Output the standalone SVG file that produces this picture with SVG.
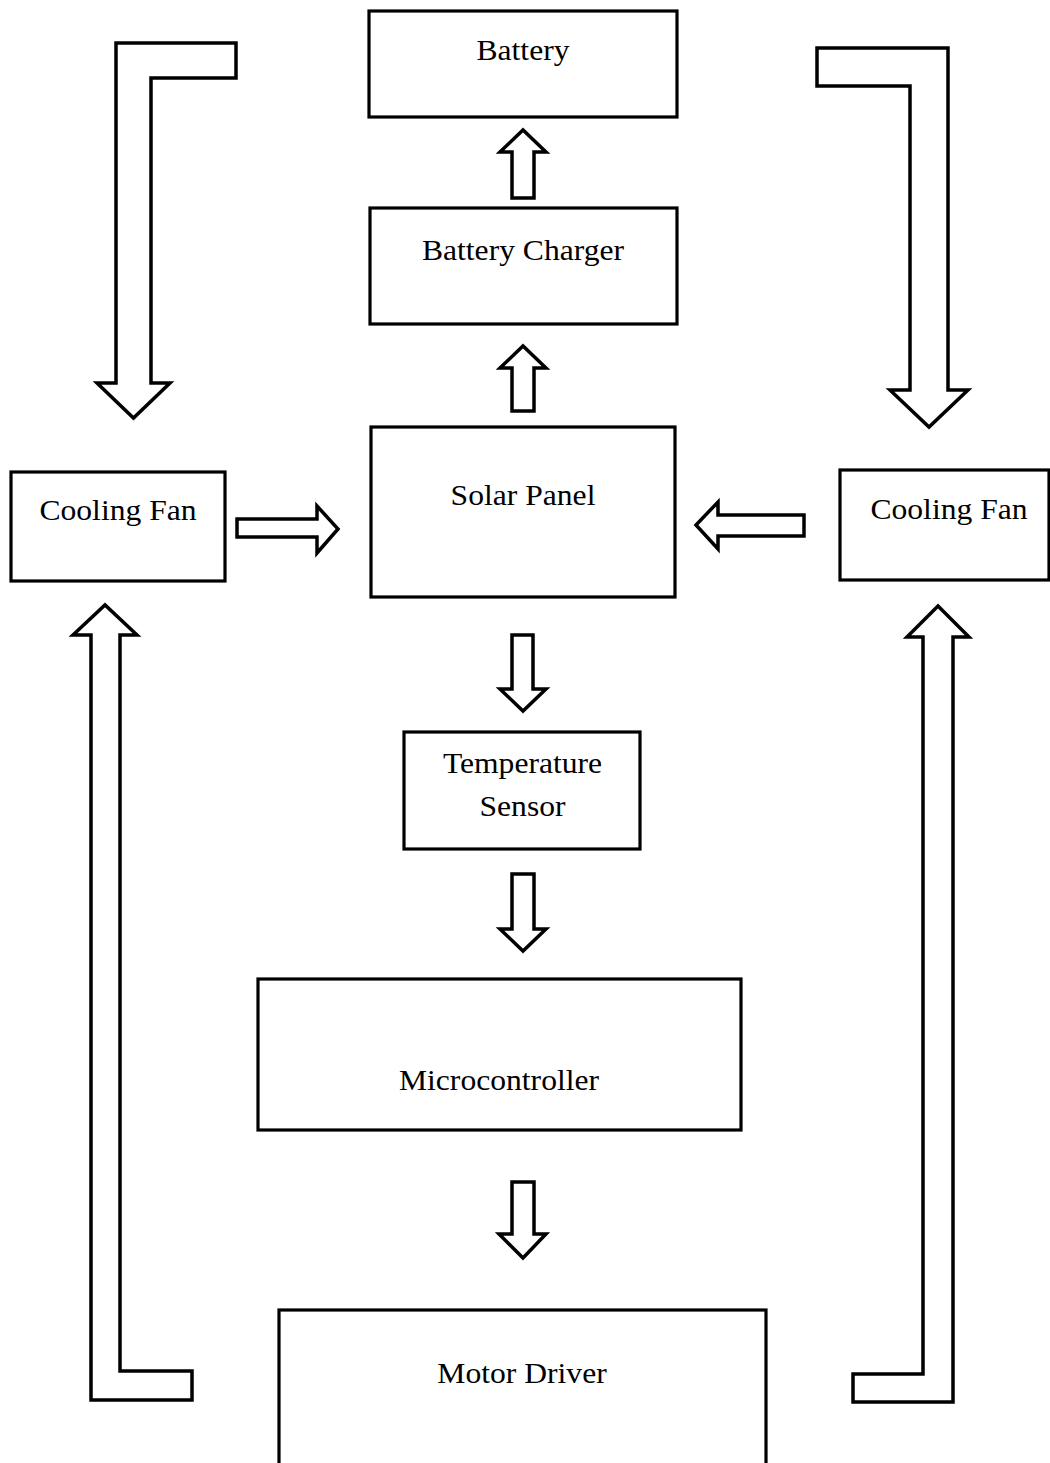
<svg xmlns="http://www.w3.org/2000/svg" width="1050" height="1463" viewBox="0 0 1050 1463">
  <style>
    .box { fill: #fff; stroke: #000; stroke-width: 3.2; }
    .arr { fill: #fff; stroke: #000; stroke-width: 3.5; stroke-linejoin: miter; }
    .lbl { font-family: "Liberation Serif", "Times New Roman", serif; font-size: 29px; fill: #000; text-anchor: middle; }
  </style>
  <rect width="1050" height="1463" fill="#fff"/>

  <g id="connectors">
    <!-- top-left bent arrow down into left fan -->
    <path class="arr" d="M116,43 L236,43 L236,78 L151,78 L151,383 L170,383 L133.5,418 L97,383 L116,383 Z"/>
    <!-- top-right bent arrow down into right fan -->
    <path class="arr" d="M817,48 L948,48 L948,390 L968,390 L929,427 L890,390 L910,390 L910,86 L817,86 Z"/>
    <!-- charger to battery -->
    <path class="arr" d="M512,198 L534,198 L534,152 L546,152 L523,130 L500,152 L512,152 Z"/>
    <!-- solar panel to charger -->
    <path class="arr" d="M512,411 L534,411 L534,368 L546,368 L523,346 L500,368 L512,368 Z"/>
    <!-- left fan to solar panel -->
    <path class="arr" d="M237,519 L317,519 L317,506 L338,529 L317,553 L317,537 L237,537 Z"/>
    <!-- right fan to solar panel -->
    <path class="arr" d="M804,515 L718,515 L718,502 L696,525 L718,549 L718,536 L804,536 Z"/>
    <!-- solar panel to temperature sensor -->
    <path class="arr" d="M512,635 L533,635 L533,689 L546,689 L523,711 L500,689 L512,689 Z"/>
    <!-- temperature sensor to microcontroller -->
    <path class="arr" d="M512,874 L534,874 L534,929 L546,929 L523,951 L500,929 L512,929 Z"/>
    <!-- microcontroller to motor driver -->
    <path class="arr" d="M512,1182 L534,1182 L534,1234 L546,1234 L523,1258 L499,1234 L512,1234 Z"/>
    <!-- bottom-left bent arrow up to left fan -->
    <path class="arr" d="M91,1400 L192,1400 L192,1371 L120,1371 L120,635 L137,635 L105,605 L73,635 L91,635 Z"/>
    <!-- bottom-right bent arrow up to right fan -->
    <path class="arr" d="M853,1374 L923,1374 L923,637 L907,637 L938,606 L969,637 L953,637 L953,1402 L853,1402 Z"/>
  </g>

  <g id="battery">
    <rect class="box" x="369" y="11" width="308" height="106"/>
    <text class="lbl" transform="translate(523,60) scale(1.09,1)">Battery</text>
  </g>
  <g id="battery-charger">
    <rect class="box" x="370" y="208" width="307" height="116"/>
    <text class="lbl" transform="translate(523,260) scale(1.09,1)">Battery Charger</text>
  </g>
  <g id="solar-panel">
    <rect class="box" x="371" y="427" width="304" height="170"/>
    <text class="lbl" transform="translate(523,505) scale(1.09,1)">Solar Panel</text>
  </g>
  <g id="cooling-fan-left">
    <rect class="box" x="11" y="472" width="214" height="109"/>
    <text class="lbl" transform="translate(118,520) scale(1.09,1)">Cooling Fan</text>
  </g>
  <g id="cooling-fan-right">
    <rect class="box" x="840" y="470" width="209" height="110"/>
    <text class="lbl" transform="translate(949,519) scale(1.09,1)">Cooling Fan</text>
  </g>
  <g id="temperature-sensor">
    <rect class="box" x="404" y="732" width="236" height="117"/>
    <text class="lbl" transform="translate(522.5,773) scale(1.09,1)">Temperature</text>
    <text class="lbl" transform="translate(522.5,816) scale(1.09,1)">Sensor</text>
  </g>
  <g id="microcontroller">
    <rect class="box" x="258" y="979" width="483" height="151"/>
    <text class="lbl" transform="translate(499,1090) scale(1.09,1)">Microcontroller</text>
  </g>
  <g id="motor-driver">
    <rect class="box" x="279" y="1310" width="487" height="170"/>
    <text class="lbl" transform="translate(522,1383) scale(1.09,1)">Motor Driver</text>
  </g>
</svg>
